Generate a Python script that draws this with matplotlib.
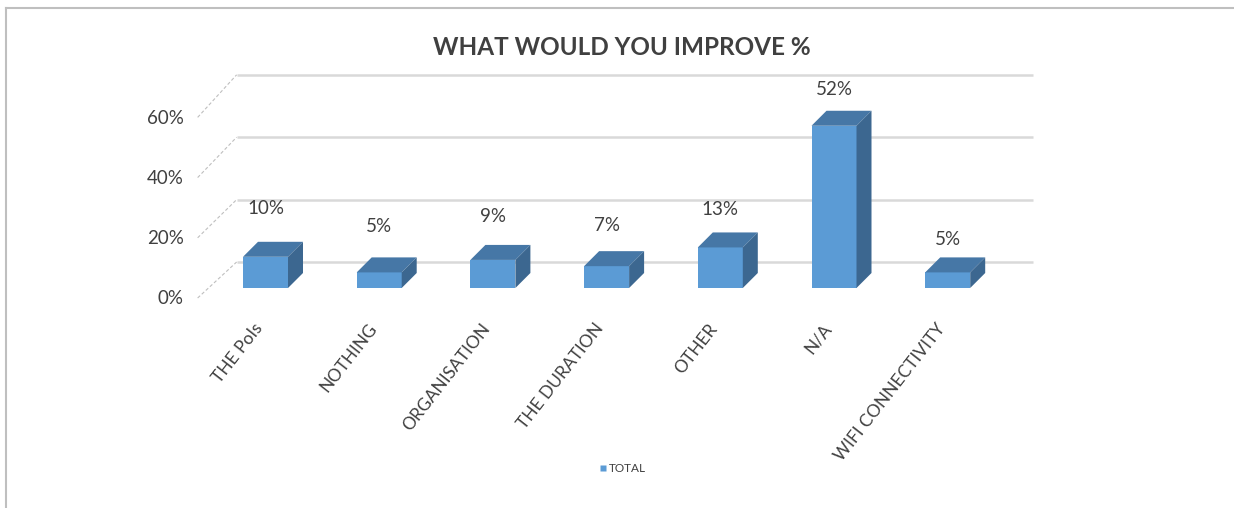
import matplotlib
matplotlib.use("Agg")
import matplotlib.pyplot as plt
from matplotlib.patches import Polygon
from matplotlib.lines import Line2D

categories = ["THE PoIs", "NOTHING", "ORGANISATION", "THE DURATION", "OTHER", "N/A", "WIFI CONNECTIVITY"]
values = [10, 5, 9, 7, 13, 52, 5]
ticks = [0, 20, 40, 60]
tick_labels = ["0%", "20%", "40%", "60%"]
series_name = "TOTAL"
title = "WHAT WOULD YOU IMPROVE %"

plt.rcParams["font.family"] = ["Lato", "DejaVu Sans"]

W, H = 1234, 508
fig = plt.figure(figsize=(W / 100, H / 100), dpi=100)

# pixel layout of the bar plane
px_x0, px_step = 265.5, 113.7      # pixel x of first category, spacing
px_base, px_per = 288.0, 3.12      # pixel y of 0 %, pixels per percent
xlim = (-0.9, 6.9)
ylim = (-12, 75)
left_px = px_x0 + px_step * xlim[0]
right_px = px_x0 + px_step * xlim[1]
top_px = px_base - px_per * ylim[1]
bot_px = px_base - px_per * ylim[0]
ax = fig.add_axes([left_px / W, 1 - bot_px / H, (right_px - left_px) / W, (bot_px - top_px) / H])
ax.set_xlim(*xlim)
ax.set_ylim(*ylim)
ax.axis("off")

# depth offsets (data units)
bdx, bdy = 15 / px_step, 15 / px_per     # bar depth
wdx, wdy = 28 / px_step, 26 / px_per     # back wall
fdx, fdy = -11 / px_step, -10 / px_per   # front edge of floor
front_scale = 0.965                      # front edge is slightly foreshortened

front_c = "#5B9BD5"
top_c = "#4677A6"
side_c = "#3C6790"
grid_c = "#D9D9D9"
text_c = "#404040"

# back wall gridlines and side wall dashes
x_lo, x_hi = -0.5, len(categories) - 0.5
for t, lab in zip(ticks, tick_labels):
    ax.plot([x_lo + wdx, x_hi + wdx], [t + wdy, t + wdy], color=grid_c, lw=1.8, zorder=1,
            solid_capstyle="butt")
    ax.plot([x_lo + fdx, x_lo + wdx], [t * front_scale + fdy, t + wdy], color="#BFBFBF", lw=0.8,
            ls=(0, (3, 2)), zorder=1)
    ax.text(x_lo + fdx - 14 / px_step, t * front_scale + fdy - 0.3, lab, ha="right", va="center",
            fontsize=13.5, color=text_c, clip_on=False)

# 3D-looking columns
bw = 45 / px_step
xs = list(range(len(categories)))
ax.bar(xs, values, width=bw, color=front_c, edgecolor="none", zorder=3)
for x, v in zip(xs, values):
    xl, xr = x - bw / 2, x + bw / 2
    ax.add_patch(Polygon([(xl, v), (xr, v), (xr + bdx, v + bdy), (xl + bdx, v + bdy)],
                         closed=True, facecolor=top_c, edgecolor="none", zorder=3))
    ax.add_patch(Polygon([(xr, 0), (xr + bdx, bdy), (xr + bdx, v + bdy), (xr, v)],
                         closed=True, facecolor=side_c, edgecolor="none", zorder=3))
    # value labels sit a little lower towards the right (perspective)
    ax.text(x, v + 15.5 - 0.8 * x, f"{v}%", ha="center", va="center", fontsize=13.5,
            color=text_c, zorder=4)

# category labels
for x, c in zip(xs, categories):
    ax.text(x - 0.05, -12.0, c, rotation=52, rotation_mode="anchor", ha="right", va="center",
            fontsize=12.5, color=text_c, clip_on=False)

# title
fig.text(0.504, 1 - 47 / H, title, ha="center", va="center", fontsize=17.5, fontweight="bold",
         color=text_c)

# legend
handle = Line2D([], [], marker="s", linestyle="none", markersize=5, markerfacecolor=front_c,
                markeredgecolor="none")
fig.legend([handle], [series_name], loc="center", bbox_to_anchor=(622 / W, 1 - 469 / H),
           frameon=False, fontsize=8.5, handletextpad=0.1, handlelength=0.8,
           labelcolor=text_c)

# chart area border
fig.add_artist(Line2D([6 / W, 1], [1 - 7.5 / H, 1 - 7.5 / H], color="#BFBFBF", lw=1.5,
                      transform=fig.transFigure))
fig.add_artist(Line2D([6 / W, 6 / W], [0, 1 - 7.5 / H], color="#BFBFBF", lw=1.5,
                      transform=fig.transFigure))

fig.savefig("out.png", dpi=100)
